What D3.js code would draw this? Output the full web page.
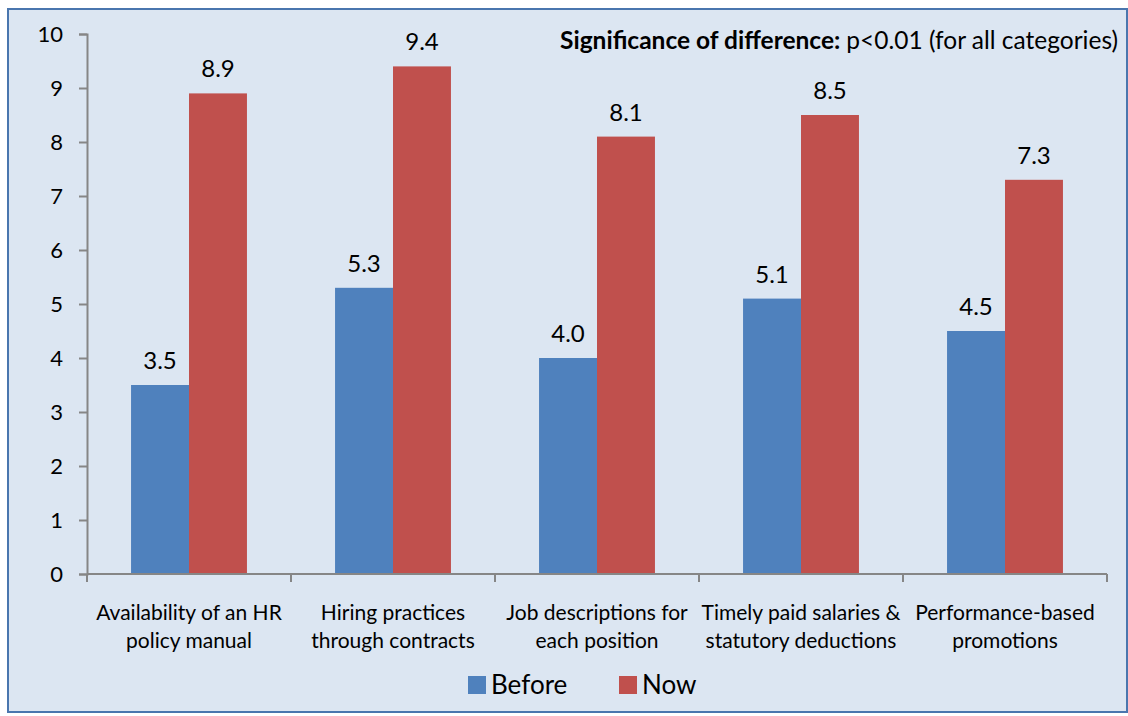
<!DOCTYPE html>
<html>
<head>
<meta charset="utf-8">
<script src="https://cdn.jsdelivr.net/npm/d3@7"></script>
<style>
  html, body { margin: 0; padding: 0; background: #fff; }
  svg { display: block; font-family: Lato, "Open Sans", sans-serif; }
</style>
</head>
<body>
<svg id="chart" width="1128" height="716"></svg>
<script>
// Survey scores per HR practice, before and now
const categories = [
  ["Availability of an HR", "policy manual"],
  ["Hiring practices", "through contracts"],
  ["Job descriptions for", "each position"],
  ["Timely paid salaries &", "statutory deductions"],
  ["Performance-based", "promotions"]
];
const seriesNames = ["Before", "Now"];
const beforeValues = [3.5, 5.3, 4.0, 5.1, 4.5];
const nowValues = [8.9, 9.4, 8.1, 8.5, 7.3];
const yTicks = [0, 1, 2, 3, 4, 5, 6, 7, 8, 9, 10];

const colors = { Before: "#4F81BD", Now: "#C0504D" };
const seriesValues = { Before: beforeValues, Now: nowValues };

const svg = d3.select("#chart");
const W = 1128, H = 716;

// chart area background and frame
svg.append("rect")
  .attr("x", 8).attr("y", 9)
  .attr("width", W - 9).attr("height", H - 13)
  .attr("fill", "#DCE6F2")
  .attr("stroke", "#4A76AE").attr("stroke-width", 2);

const plot = { left: 87, right: 1107, top: 34, bottom: 574 };

const x0 = d3.scaleBand()
  .domain(d3.range(categories.length))
  .range([plot.left, plot.right])
  .padding(0);

const x1 = d3.scaleBand()
  .domain(seriesNames)
  .range([0, x0.bandwidth()])
  .paddingInner(0)
  .paddingOuter(0.76);

const y = d3.scaleLinear().domain([0, 10]).range([plot.bottom, plot.top]);

// bars
const groups = svg.append("g").selectAll("g")
  .data(d3.range(categories.length))
  .join("g")
  .attr("transform", i => `translate(${x0(i)},0)`);

groups.selectAll("rect")
  .data(i => seriesNames.map(s => ({ s, v: seriesValues[s][i] })))
  .join("rect")
  .attr("x", d => x1(d.s))
  .attr("y", d => y(d.v))
  .attr("width", x1.bandwidth())
  .attr("height", d => y(0) - y(d.v))
  .attr("fill", d => colors[d.s]);

// value labels
groups.selectAll("text")
  .data(i => seriesNames.map(s => ({ s, v: seriesValues[s][i] })))
  .join("text")
  .attr("x", d => x1(d.s) + x1.bandwidth() / 2)
  .attr("y", d => y(d.v) - 16)
  .attr("text-anchor", "middle")
  .attr("font-size", 24)
  .attr("fill", "#000")
  .text(d => d.v.toFixed(1));

// y axis
const yAxis = d3.axisLeft(y).tickValues(yTicks).tickSize(8).tickPadding(16).tickFormat(d3.format("d"));
const gy = svg.append("g")
  .attr("transform", `translate(${plot.left},0)`)
  .call(yAxis);
gy.select(".domain").attr("stroke", "#868686").attr("stroke-width", 2);
gy.selectAll(".tick line").attr("stroke", "#868686").attr("stroke-width", 2);
gy.selectAll(".tick text").attr("font-size", 22).attr("fill", "#000")
  .attr("font-family", "Lato, 'Open Sans', sans-serif");

// x axis with boundary ticks between categories
const xb = d3.scaleLinear().domain([0, categories.length]).range([plot.left, plot.right]);
const gx = svg.append("g");
gx.append("line")
  .attr("x1", plot.left).attr("x2", plot.right)
  .attr("y1", plot.bottom).attr("y2", plot.bottom)
  .attr("stroke", "#868686").attr("stroke-width", 2);
gx.selectAll("line.tk")
  .data(d3.range(categories.length + 1))
  .join("line")
  .attr("class", "tk")
  .attr("x1", d => xb(d)).attr("x2", d => xb(d))
  .attr("y1", plot.bottom).attr("y2", plot.bottom + 8)
  .attr("stroke", "#868686").attr("stroke-width", 2);

// category labels (two lines each)
const catLabels = svg.append("g").selectAll("text")
  .data(categories)
  .join("text")
  .attr("x", (d, i) => x0(i) + x0.bandwidth() / 2)
  .attr("y", 620)
  .attr("text-anchor", "middle")
  .attr("font-size", 21)
  .attr("fill", "#000");
catLabels.selectAll("tspan")
  .data(d => d)
  .join("tspan")
  .attr("x", function () { return d3.select(this.parentNode).attr("x"); })
  .attr("dy", (d, i) => i === 0 ? 0 : 28)
  .text(d => d);

// significance note
const note = svg.append("text")
  .attr("x", 1118).attr("y", 49)
  .attr("text-anchor", "end")
  .attr("font-size", 24.5)
  .attr("fill", "#000");
note.append("tspan").attr("font-weight", "bold").text("Significance of difference: ");
note.append("tspan").text("p<0.01 (for all categories)");

// legend
const legendItems = [
  { name: "Before", x: 468 },
  { name: "Now", x: 619 }
];
const legend = svg.append("g").selectAll("g")
  .data(legendItems)
  .join("g")
  .attr("transform", d => `translate(${d.x},676)`);
legend.append("rect")
  .attr("width", 18).attr("height", 18)
  .attr("fill", d => colors[d.name]);
legend.append("text")
  .attr("x", 23).attr("y", 18)
  .attr("font-size", 26)
  .attr("fill", "#000")
  .text(d => d.name);
</script>
</body>
</html>
